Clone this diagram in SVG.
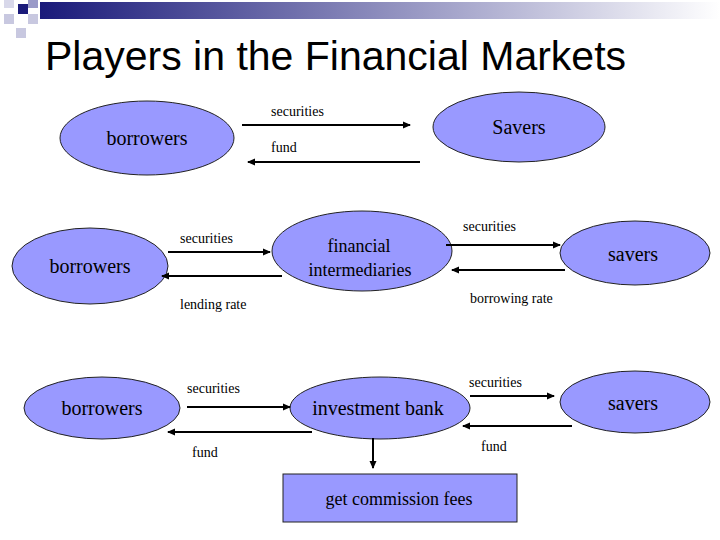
<svg xmlns="http://www.w3.org/2000/svg" width="720" height="540" viewBox="0 0 720 540">
<defs>
<linearGradient id="bar" x1="0" x2="1" y1="0" y2="0"><stop offset="0" stop-color="#1a1a7a"/><stop offset="1" stop-color="#ffffff"/></linearGradient>
<marker id="ah" markerWidth="8" markerHeight="8" refX="7" refY="4" orient="auto" markerUnits="userSpaceOnUse"><path d="M0,0.5 L8,4 L0,7.5 z" fill="#000"/></marker>
<style>
.n{fill:#9999ff;stroke:#222;stroke-width:1}
.t{font-family:"Liberation Serif",serif;fill:#000;text-anchor:middle}
.l{font-family:"Liberation Serif",serif;fill:#000;font-size:14px}
.c line{stroke:#000;stroke-width:2;marker-end:url(#ah)}
</style>
</defs>
<rect width="720" height="540" fill="#fff"/>
<rect x="40" y="2" width="680" height="17" fill="url(#bar)"/>
<rect x="18" y="4" width="10" height="10" fill="#1a1a7a"/>
<rect x="4" y="14" width="10" height="10" fill="#c8c8e0"/>
<rect x="28" y="14" width="10" height="10" fill="#c8c8e0"/>
<rect x="16" y="28" width="10" height="10" fill="#c8c8e0"/>
<rect x="4" y="0" width="10" height="8" fill="#d8d8ea"/>
<rect x="28" y="0" width="10" height="8" fill="#9a9ac8"/>
<text x="45" y="70" font-family="Liberation Sans,Arial,sans-serif" font-size="41" fill="#000">Players in the Financial Markets</text>
<g id="borrowers1"><ellipse class="n" cx="147" cy="138" rx="87" ry="37"/><text class="t" x="147" y="145" font-size="20">borrowers</text></g>
<g id="savers1"><ellipse class="n" cx="519" cy="127" rx="86" ry="35"/><text class="t" x="519" y="134" font-size="20">Savers</text></g>
<g id="borrowers2"><ellipse class="n" cx="90" cy="266" rx="78" ry="38"/><text class="t" x="90" y="273" font-size="20">borrowers</text></g>
<g id="fi"><ellipse class="n" cx="362" cy="251" rx="90" ry="40"/><text class="t" x="359" y="252" font-size="18">financial</text><text class="t" x="360" y="276" font-size="18">intermediaries</text></g>
<g id="savers2"><ellipse class="n" cx="635" cy="253" rx="75" ry="32"/><text class="t" x="633" y="261" font-size="20">savers</text></g>
<g id="borrowers3"><ellipse class="n" cx="102" cy="408" rx="78" ry="31"/><text class="t" x="102" y="415" font-size="20">borrowers</text></g>
<g id="ib"><ellipse class="n" cx="380" cy="408" rx="90" ry="31"/><text class="t" x="378" y="415" font-size="20">investment bank</text></g>
<g id="savers3"><ellipse class="n" cx="635" cy="402" rx="75" ry="31"/><text class="t" x="633" y="410" font-size="20">savers</text></g>
<g id="fees"><rect class="n" x="283" y="474" width="234" height="48"/><text class="t" x="399" y="505" font-size="18">get commission fees</text></g>
<g class="c" id="connectors">
<line x1="242" y1="125" x2="410" y2="125"/>
<line x1="420" y1="162" x2="248" y2="162"/>
<line x1="168" y1="252" x2="270" y2="252"/>
<line x1="282" y1="276" x2="162" y2="276"/>
<line x1="446" y1="245" x2="560" y2="245"/>
<line x1="565" y1="270" x2="452" y2="270"/>
<line x1="187" y1="407" x2="290" y2="407"/>
<line x1="312" y1="432" x2="168" y2="432"/>
<line x1="470" y1="396" x2="554" y2="396"/>
<line x1="572" y1="426" x2="463" y2="426"/>
<line x1="373" y1="438" x2="373" y2="468"/>
</g>
<g id="labels">
<text class="l" x="271" y="116" font-size="20">securities</text>
<text class="l" x="271" y="152" font-size="20">fund</text>
<text class="l" x="180" y="243">securities</text>
<text class="l" x="180" y="309">lending rate</text>
<text class="l" x="463" y="231">securities</text>
<text class="l" x="470" y="303">borrowing rate</text>
<text class="l" x="187" y="393">securities</text>
<text class="l" x="192" y="457">fund</text>
<text class="l" x="469" y="387">securities</text>
<text class="l" x="481" y="451">fund</text>
</g>
</svg>
